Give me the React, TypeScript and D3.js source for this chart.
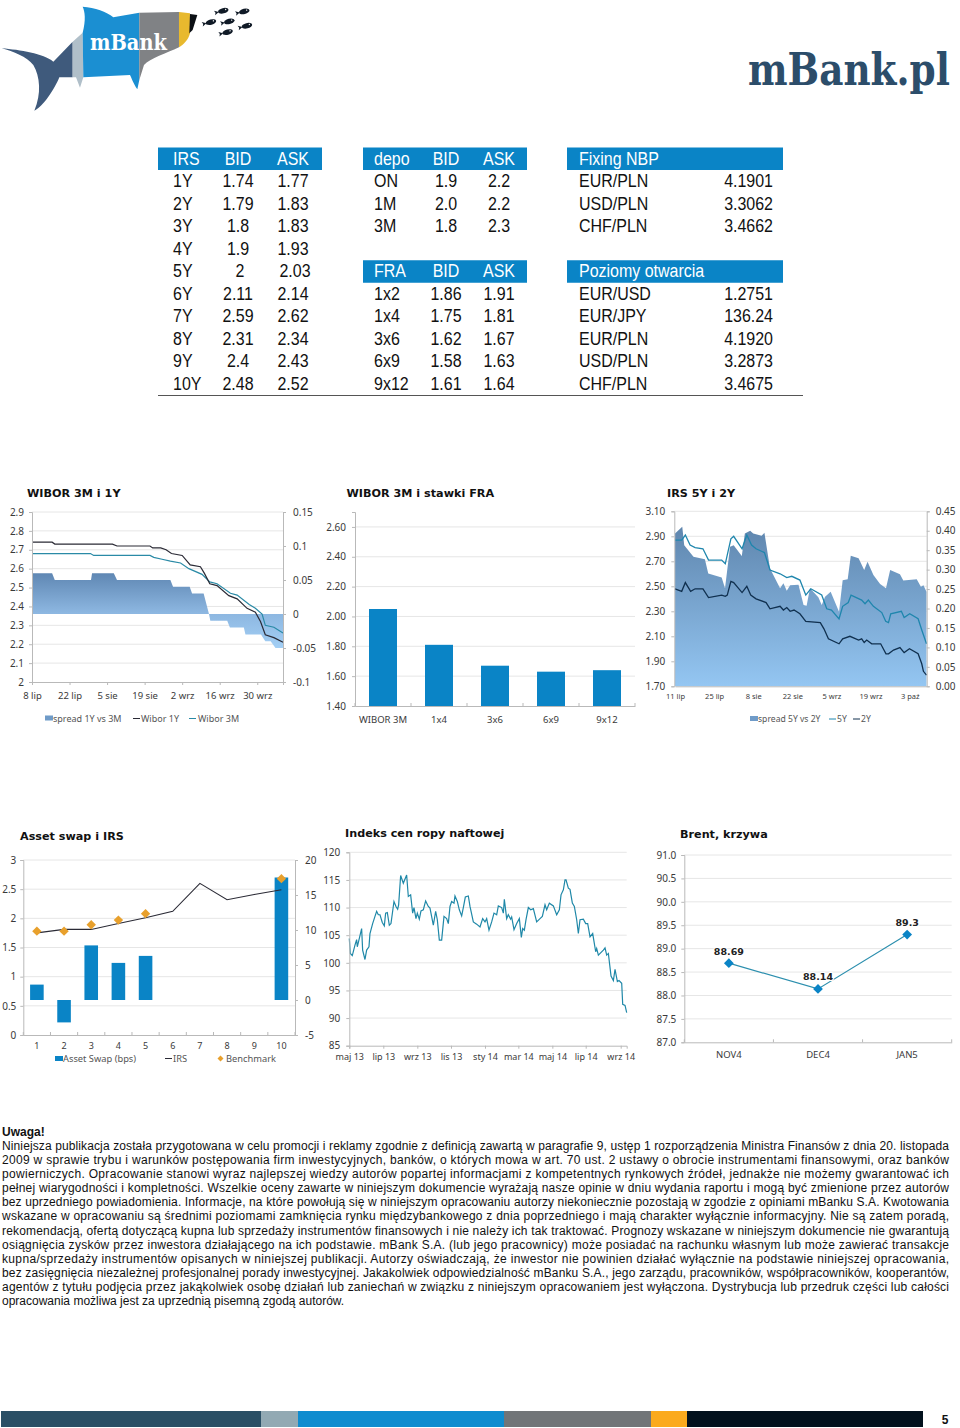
import { useEffect, useRef } from 'react';
import * as d3 from 'd3';

const BLUE = '#0a84c6';
const GRID = '#e6e6e6';
const AXIS = '#b9b9b9';
const TEXT = '#3a3a3a';
const SANS = '"Noto Sans", sans-serif';
const HEAD = '"DejaVu Sans", sans-serif';
const ARIAL = '"Liberation Sans", Arial, sans-serif';
const SERIF = '"DejaVu Serif", serif';

// ---- tabele ----
const irsRows = [
    ['1Y', '1.74', '1.77'], ['2Y', '1.79', '1.83'], ['3Y', '1.8', '1.83'], ['4Y', '1.9', '1.93'], ['5Y', '2', '2.03'],
    ['6Y', '2.11', '2.14'], ['7Y', '2.59', '2.62'], ['8Y', '2.31', '2.34'], ['9Y', '2.4', '2.43'], ['10Y', '2.48', '2.52'],
];
const depoRows = [['ON', '1.9', '2.2'], ['1M', '2.0', '2.2'], ['3M', '1.8', '2.3']];
const fraRows = [['1x2', '1.86', '1.91'], ['1x4', '1.75', '1.81'], ['3x6', '1.62', '1.67'], ['6x9', '1.58', '1.63'], ['9x12', '1.61', '1.64']];
const fixingRows = [['EUR/PLN', '4.1901'], ['USD/PLN', '3.3062'], ['CHF/PLN', '3.4662']];
const openRows = [['EUR/USD', '1.2751'], ['EUR/JPY', '136.24'], ['EUR/PLN', '4.1920'], ['USD/PLN', '3.2873'], ['CHF/PLN', '3.4675']];

// ---- WIBOR 3M i 1Y: [dzień, wartość] ----
const wibor1Y = [[0, 2.74], [7.5, 2.74], [8.5, 2.73], [30, 2.73], [31.7, 2.72], [44, 2.72], [45, 2.71], [48, 2.71], [50, 2.7], [52, 2.68], [56, 2.67], [59, 2.62], [62.8, 2.61], [64.3, 2.575], [66.3, 2.52], [69, 2.51], [73.4, 2.457], [76.5, 2.44], [80.2, 2.39], [83.3, 2.37], [85.2, 2.32], [87, 2.25], [90.2, 2.235], [93.6, 2.21]];
const wibor3M = [[0, 2.68], [21.8, 2.68], [23, 2.67], [44, 2.67], [45.4, 2.66], [48.5, 2.65], [51.6, 2.64], [55.4, 2.63], [58.5, 2.6], [63.4, 2.57], [66.3, 2.53], [69, 2.52], [74, 2.47], [76.5, 2.46], [81, 2.41], [83.3, 2.39], [85.8, 2.36], [87, 2.3], [90.2, 2.29], [93.6, 2.26]];
const spread1Y = [[0, 0.06], [7.5, 0.06], [8.5, 0.05], [22, 0.05], [22.4, 0.06], [30.5, 0.06], [31.7, 0.05], [51.6, 0.05], [52.6, 0.04], [58.8, 0.04], [59.7, 0.03], [64, 0.03], [66, 0], [66.5, -0.01], [72.8, -0.01], [73.8, -0.02], [79, -0.02], [79.6, -0.03], [85.4, -0.03], [87, -0.04], [89, -0.04], [90.8, -0.05], [93.6, -0.05]];
const chart1Dates = [0, 14, 28, 42, 56, 70, 84];
const chart1DateLabels = ['8 lip', '22 lip', '5 sie', '19 sie', '2 wrz', '16 wrz', '30 wrz'];
const chart1Left = [2, 2.1, 2.2, 2.3, 2.4, 2.5, 2.6, 2.7, 2.8, 2.9];
const chart1Right = [-0.1, -0.05, 0, 0.05, 0.1, 0.15];

// ---- WIBOR 3M i stawki FRA ----
const fraLabels = ['WIBOR 3M', '1x4', '3x6', '6x9', '9x12'];
const fraValues = [2.05, 1.81, 1.67, 1.63, 1.64];
const fraTicks = [1.4, 1.6, 1.8, 2.0, 2.2, 2.4, 2.6];

// ---- IRS 5Y i 2Y ----
const irs5Y = [[0, 2.87], [2.4, 2.87], [3.7, 2.91], [5.4, 2.83], [7.2, 2.81], [10, 2.8], [12, 2.71], [16.7, 2.71], [18, 2.68], [20, 2.88], [21, 2.9], [24, 2.8], [25.7, 2.91], [27.4, 2.83], [29, 2.8], [32, 2.77], [34, 2.63], [37.6, 2.6], [40, 2.57], [41.8, 2.58], [44.7, 2.55], [46.8, 2.43], [48.6, 2.48], [52.5, 2.43], [54.3, 2.32], [56, 2.31], [58.7, 2.24], [60, 2.34], [62, 2.37], [63, 2.43], [66.8, 2.39], [68, 2.36], [69.2, 2.39], [71, 2.34], [74, 2.29], [75.4, 2.22], [76.4, 2.21], [77.2, 2.28], [81, 2.3], [82, 2.25], [84, 2.28], [87, 2.24], [88.3, 2.15], [90, 2.04]];
const irs2Y = [[0, 2.48], [2.4, 2.46], [3.7, 2.53], [5.6, 2.46], [7.2, 2.48], [10, 2.48], [12, 2.41], [16.7, 2.43], [18, 2.42], [18.7, 2.43], [20, 2.54], [21, 2.53], [24, 2.45], [25.7, 2.5], [27.1, 2.43], [29, 2.4], [32.6, 2.37], [34, 2.32], [37.6, 2.34], [38.8, 2.31], [40, 2.33], [41.2, 2.3], [42.6, 2.31], [44.7, 2.28], [46.8, 2.22], [52, 2.21], [53.3, 2.16], [54.9, 2.08], [58.7, 2.04], [60, 2.08], [62.6, 2.1], [65.7, 2.07], [66.8, 2.08], [67.7, 2.05], [68.6, 2.07], [70.4, 2.04], [73.6, 2.04], [75.5, 1.96], [76.4, 1.96], [78.2, 1.99], [80.5, 2.01], [82, 1.97], [83.9, 2], [87, 1.96], [88.3, 1.88], [88.9, 1.82], [90, 1.79]];
const spread5Y = [[0, 0.393], [2.6, 0.41], [3.3, 0.363], [6.6, 0.333], [10.7, 0.327], [11.9, 0.29], [16.7, 0.28], [17.9, 0.252], [19.7, 0.359], [21, 0.363], [23.9, 0.335], [25, 0.393], [26.9, 0.4], [28, 0.393], [31, 0.387], [32, 0.395], [34, 0.303], [37.6, 0.252], [38.8, 0.265], [40, 0.246], [41.2, 0.26], [44.2, 0.261], [46, 0.209], [47.1, 0.207], [48.3, 0.252], [51.3, 0.229], [52.5, 0.209], [53.7, 0.23], [55.7, 0.243], [58.7, 0.192], [60, 0.273], [61.8, 0.275], [62.9, 0.336], [65.7, 0.329], [67.7, 0.299], [68.9, 0.32], [71, 0.286], [73.4, 0.263], [75.5, 0.252], [77, 0.299], [80.5, 0.288], [81.7, 0.272], [86.5, 0.275], [88, 0.256], [88.9, 0.26], [90, 0.243]];
const chart3Dates = [0, 14, 28, 42, 56, 70, 84];
const chart3DateLabels = ['11 lip', '25 lip', '8 sie', '22 sie', '5 wrz', '19 wrz', '3 paź'];
const chart3Left = [1.7, 1.9, 2.1, 2.3, 2.5, 2.7, 2.9, 3.1];
const chart3Right = [0, 0.05, 0.1, 0.15, 0.2, 0.25, 0.3, 0.35, 0.4, 0.45];

// ---- Asset swap i IRS ----
const tenors = ['1', '2', '3', '4', '5', '6', '7', '8', '9', '10'];
const assetSwap = [2.2, -3.2, 7.8, 5.3, 6.3, null, null, null, null, 17.5];
const irsMid = [1.75, 1.81, 1.81, 1.91, 2.01, 2.12, 2.6, 2.32, 2.41, 2.49];
const benchmark = [1.78, 1.78, 1.89, 1.97, 2.08, null, null, null, null, 2.68];
const chart4Left = [0, 0.5, 1, 1.5, 2, 2.5, 3];
const chart4Right = [-5, 0, 5, 10, 15, 20];

// ---- Indeks cen ropy: [sesja, wartość] ----
const oilIndex = [[0, 104.4], [3, 101.7], [9, 101.3], [17, 103.2], [22, 104.2], [24, 102.9], [37, 106.2], [40, 102.3], [47, 100.6], [52, 102.3], [59, 102.9], [62, 105.3], [70, 107.1], [77, 108.4], [82, 109.3], [87, 108.7], [92, 108.7], [99, 107.3], [105, 106.7], [109, 109], [114, 109.1], [120, 106.8], [125, 107.1], [134, 111.1], [140, 110.2], [145, 109.7], [148, 110.5], [154, 115.8], [162, 114.4], [172, 115.9], [177, 112], [184, 112.3], [190, 109], [194, 110], [200, 108], [204, 109], [210, 107.9], [215, 109.4], [222, 109.6], [229, 111.2], [237, 110.2], [242, 109.9], [252, 106.8], [259, 109.3], [264, 107.8], [270, 104.1], [277, 104.1], [284, 108.4], [292, 108], [297, 107.1], [302, 110.2], [307, 111.1], [314, 110.8], [317, 112.1], [324, 111.1], [330, 109.6], [337, 108.5], [342, 110], [348, 111.9], [357, 112.1], [362, 110.2], [372, 107.4], [382, 107], [392, 106.5], [400, 108], [407, 107.4], [412, 108], [419, 105.9], [427, 107.4], [434, 109], [442, 108.7], [447, 110.3], [457, 110], [462, 109], [465, 111.5], [472, 108], [477, 108.7], [484, 107.9], [487, 108.3], [494, 106], [502, 107.1], [510, 108], [516, 104.6], [520, 106.2], [525, 105.9], [530, 107.8], [537, 110], [544, 109.6], [552, 109.8], [562, 107.4], [572, 108], [579, 108.4], [587, 110.5], [592, 109.6], [600, 110.8], [612, 110.3], [622, 108.7], [630, 109.6], [635, 112.3], [642, 113.2], [647, 115], [650, 115], [657, 113.5], [662, 113.3], [669, 110.8], [675, 110.2], [682, 107.8], [687, 105.3], [692, 107.8], [702, 107.9], [709, 107.1], [715, 107.1], [722, 104.7], [730, 105.3], [739, 102], [742, 102.6], [747, 101.4], [762, 102.3], [767, 102.7], [772, 101.4], [777, 101.7], [785, 97.6], [792, 96.8], [797, 98.8], [804, 96.6], [809, 96.8], [817, 96.3], [820, 92.5], [827, 92.3], [832, 91]];
const oilDates = [0, 102, 204, 305, 407, 507, 609, 709, 814];
const oilDateLabels = ['maj 13', 'lip 13', 'wrz 13', 'lis 13', 'sty 14', 'mar 14', 'maj 14', 'lip 14', 'wrz 14'];
const oilTicks = [85, 90, 95, 100, 105, 110, 115, 120];

// ---- Brent ----
const brentMonths = ['NOV4', 'DEC4', 'JAN5'];
const brentValues = [88.69, 88.14, 89.3];
const brentLabels = ['88.69', '88.14', '89.3'];
const brentTicks = [87, 87.5, 88, 88.5, 89, 89.5, 90, 90.5, 91];

// ---- stopka ----
const footerEdges = [1, 261, 298, 504, 651, 687, 923];
const footerColors = ['#2a4f65', '#92a9b3', '#0f8ccf', '#717578', '#fbaa1d', '#02111d'];

const noteJustified = [
    'Niniejsza publikacja została przygotowana w celu promocji i reklamy zgodnie z definicją zawartą w paragrafie 9, ustęp 1 rozporządzenia Ministra Finansów z dnia 20. listopada',
    '2009 w sprawie trybu i warunków postępowania firm inwestycyjnych, banków, o których mowa w art. 70 ust. 2 ustawy o obrocie instrumentami finansowymi, oraz banków',
    'powierniczych. Opracowanie stanowi wyraz najlepszej wiedzy autorów popartej informacjami z kompetentnych rynkowych źródeł, jednakże nie możemy gwarantować ich',
    'pełnej wiarygodności i kompletności. Wszelkie oceny zawarte w niniejszym dokumencie wyrażają nasze opinie w dniu wydania raportu i mogą być zmienione przez autorów',
    'bez uprzedniego powiadomienia. Informacje, na które powołują się w niniejszym opracowaniu autorzy niekoniecznie pozostają w zgodzie z opiniami mBanku S.A. Kwotowania',
    'wskazane w opracowaniu są średnimi poziomami zamknięcia rynku międzybankowego z dnia poprzedniego i mają charakter wyłącznie informacyjny. Nie są zatem poradą,',
    'rekomendacją, ofertą dotyczącą kupna lub sprzedaży instrumentów finansowych i nie należy ich tak traktować. Prognozy wskazane w niniejszym dokumencie nie gwarantują',
    'osiągnięcia zysków przez inwestora działającego na ich podstawie. mBank S.A. (lub jego pracownicy) może posiadać na rachunku własnym lub może zawierać transakcje',
    'kupna/sprzedaży instrumentów opisanych w niniejszej publikacji. Autorzy oświadczają, że inwestor nie powinien działać wyłącznie na podstawie niniejszej opracowania,',
    'bez zasięgnięcia niezależnej profesjonalnej porady inwestycyjnej. Jakakolwiek odpowiedzialność mBanku S.A., jego zarządu, pracowników, współpracowników, kooperantów,',
    'agentów z tytułu podjęcia przez jakąkolwiek osobę działań lub zaniechań w związku z niniejszym opracowaniem jest wyłączona. Dystrybucja lub przedruk części lub całości',
];
const noteLast = 'opracowania możliwa jest za uprzednią pisemną zgodą autorów.';

// rysuje os d3 w grupie
const Axis = ({ axis, size = 10 }: { axis: any; size?: number }) => {
    const ref = useRef<SVGGElement>(null);
    useEffect(() => {
        const g = d3.select(ref.current);
        g.call(axis);
        g.select('.domain').attr('stroke', AXIS);
        g.selectAll('.tick line').attr('stroke', AXIS);
        g.selectAll('.tick text').attr('fill', TEXT).attr('font-size', size).attr('font-family', SANS);
    }, []);
    return <g ref={ref} />;
};

const At = ({ x = 0, y = 0, children }: any) => <g transform={`translate(${x},${y})`}>{children}</g>;

const Title = ({ x, y, children }: any) => (
    <text x={x} y={y} fontFamily={HEAD} fontWeight="bold" fontSize={11.2} fill="#111">{children}</text>
);

const Label = ({ x, y, size = 9, anchor = 'start', children }: any) => (
    <text x={x} y={y} fontFamily={SANS} fontSize={size} fill="#555" textAnchor={anchor}>{children}</text>
);

const Grid = ({ ticks, scale, x1, x2 }: any) => (
    <g>{ticks.map((t: number) => <line key={t} x1={x1} x2={x2} y1={scale(t)} y2={scale(t)} stroke={GRID} />)}</g>
);

// kreski miedzy kategoriami
const BandTicks = ({ scale, y }: any) => {
    const [a, b] = scale.range();
    const n = scale.domain().length;
    const step = (b - a) / n;
    return <g>{d3.range(n + 1).map(i => <line key={i} x1={a + i * step} x2={a + i * step} y1={y} y2={y + 3} stroke={AXIS} />)}</g>;
};

const Diamond = ({ x, y, area, fill }: any) => (
    <path d={d3.symbol(d3.symbolSquare, area)() || ''} transform={`translate(${x},${y}) rotate(45)`} fill={fill} />
);

const Chart1 = () => {
    const x = d3.scaleLinear().domain([0, 93.6]).range([32, 283]);
    const left = d3.scaleLinear().domain([2, 2.9]).range([682, 512]);
    const right = d3.scaleLinear().domain([-0.1, 0.15]).range([682, 512]);
    const line = d3.line<number[]>().x(d => x(d[0])).y(d => left(d[1]));
    const area = d3.area<number[]>().x(d => x(d[0])).y0(right(0)).y1(d => right(d[1]));
    return (
        <g>
            <defs>
                <linearGradient id="spread1" gradientUnits="userSpaceOnUse" x1="0" x2="0" y1={right(0.06)} y2={right(-0.05)}>
                    <stop offset="0" stopColor="#5f87b3" />
                    <stop offset="0.52" stopColor="#8cb6e0" />
                    <stop offset="1" stopColor="#a3cff5" />
                </linearGradient>
            </defs>
            <Title x={27} y={497}>WIBOR 3M i 1Y</Title>
            <Grid ticks={chart1Left.slice(1)} scale={left} x1={32} x2={283} />
            <path d={area(spread1Y) || ''} fill="url(#spread1)" />
            <path d={line(wibor3M) || ''} fill="none" stroke="#2a8aa6" strokeWidth={1.2} />
            <path d={line(wibor1Y) || ''} fill="none" stroke="#2a2a35" strokeWidth={1.2} />
            <At x={32}><Axis axis={d3.axisLeft(left).tickValues(chart1Left).tickSize(3).tickPadding(5).tickFormat(d => String(d))} /></At>
            <At x={283}><Axis axis={d3.axisRight(right).tickValues(chart1Right).tickSize(3).tickPadding(7).tickFormat(d => String(d))} /></At>
            <At y={682}><Axis axis={d3.axisBottom(x).tickValues(chart1Dates).tickSize(3).tickPadding(7).tickFormat((_, i) => chart1DateLabels[i])} size={9.5} /></At>
            <rect x={45} y={715.5} width={8} height={5} fill="#6f9bc8" />
            <Label x={53} y={722}>spread 1Y vs 3M</Label>
            <line x1={133} x2={140} y1={718.5} y2={718.5} stroke="#2a2a35" />
            <Label x={141} y={722}>Wibor 1Y</Label>
            <line x1={189} x2={196} y1={718.5} y2={718.5} stroke="#2a8aa6" />
            <Label x={198} y={722}>Wibor 3M</Label>
        </g>
    );
};

const Chart2 = () => {
    const x = d3.scaleBand().domain(fraLabels).range([355, 635]).paddingInner(0.5).paddingOuter(0.25);
    const y = d3.scaleLinear().domain([1.4, 2.7]).range([706, 512]);
    return (
        <g>
            <Title x={346.5} y={497}>WIBOR 3M i stawki FRA</Title>
            <Grid ticks={fraTicks.slice(1)} scale={y} x1={355} x2={635} />
            {fraValues.map((v, i) => (
                <rect key={fraLabels[i]} x={x(fraLabels[i])} y={y(v)} width={x.bandwidth()} height={y(1.4) - y(v)} fill={BLUE} />
            ))}
            <At x={355}><Axis axis={d3.axisLeft(y).tickValues(fraTicks).tickSize(3).tickPadding(6).tickFormat(d => Number(d).toFixed(2))} /></At>
            <At y={706}>
                <Axis axis={d3.axisBottom(x).tickSize(0).tickPadding(10)} size={9.5} />
            </At>
            <BandTicks scale={x} y={703} />
        </g>
    );
};

const Chart3 = () => {
    const x = d3.scaleLinear().domain([0, 90]).range([675, 926.5]);
    const left = d3.scaleLinear().domain([1.7, 3.1]).range([686.3, 511.3]);
    const right = d3.scaleLinear().domain([0, 0.45]).range([686.3, 511.3]);
    const line = d3.line<number[]>().x(d => x(d[0])).y(d => left(d[1]));
    const area = d3.area<number[]>().x(d => x(d[0])).y0(right(0)).y1(d => right(d[1]));
    return (
        <g>
            <defs>
                <linearGradient id="spread5" gradientUnits="userSpaceOnUse" x1="0" x2="0" y1={right(0.41)} y2={right(0)}>
                    <stop offset="0" stopColor="#5f86ae" />
                    <stop offset="1" stopColor="#94c6f2" />
                </linearGradient>
            </defs>
            <Title x={667} y={497}>IRS 5Y i 2Y</Title>
            <Grid ticks={chart3Left.slice(1)} scale={left} x1={674.3} x2={926.7} />
            <path d={area(spread5Y) || ''} fill="url(#spread5)" />
            <path d={line(irs5Y) || ''} fill="none" stroke="#1f86ad" strokeWidth={1.3} />
            <path d={line(irs2Y) || ''} fill="none" stroke="#10304f" strokeWidth={1.3} />
            <At x={674.3}><Axis axis={d3.axisLeft(left).tickValues(chart3Left).tickSize(3).tickPadding(6).tickFormat(d => Number(d).toFixed(2))} /></At>
            <At x={926.7}><Axis axis={d3.axisRight(right).tickValues(chart3Right).tickSize(3).tickPadding(6).tickFormat(d => Number(d).toFixed(2))} /></At>
            <At y={686.3}><Axis axis={d3.axisBottom(x).tickValues(chart3Dates).tickSize(0).tickPadding(7).tickFormat((_, i) => chart3DateLabels[i])} size={7.5} /></At>
            <rect x={750} y={716} width={8} height={5} fill="#6f9bc8" />
            <Label x={758} y={722} size={8.6}>spread 5Y vs 2Y</Label>
            <line x1={829} x2={836} y1={719} y2={719} stroke="#1f86ad" />
            <Label x={837} y={722} size={8.6}>5Y</Label>
            <line x1={853} x2={860} y1={719} y2={719} stroke="#10304f" />
            <Label x={861} y={722} size={8.6}>2Y</Label>
        </g>
    );
};

const Chart4 = () => {
    const x = d3.scaleBand().domain(tenors).range([23.3, 295]).paddingInner(0.5).paddingOuter(0.25);
    const left = d3.scaleLinear().domain([0, 3]).range([1035, 860]);
    const right = d3.scaleLinear().domain([-5, 20]).range([1035, 860]);
    const cx = (t: string) => (x(t) || 0) + x.bandwidth() / 2;
    const line = d3.line<number>().x((_, i) => cx(tenors[i])).y(d => left(d));
    return (
        <g>
            <Title x={20} y={840}>Asset swap i IRS</Title>
            <Grid ticks={chart4Left.slice(1)} scale={left} x1={23.3} x2={295} />
            {assetSwap.map((v, i) => v === null ? null : (
                <rect key={i} x={x(tenors[i])} width={x.bandwidth()} y={Math.min(right(v), right(0))} height={Math.abs(right(v) - right(0))} fill={BLUE} />
            ))}
            <path d={line(irsMid) || ''} fill="none" stroke="#2a2a35" strokeWidth={1.1} />
            {benchmark.map((v, i) => v === null ? null : (
                <Diamond key={i} x={cx(tenors[i])} y={left(v)} area={44} fill="#e8a02c" />
            ))}
            <At x={23.3}><Axis axis={d3.axisLeft(left).tickValues(chart4Left).tickSize(3).tickPadding(4).tickFormat(d => String(d))} /></At>
            <At x={295}><Axis axis={d3.axisRight(right).tickValues(chart4Right).tickSize(3).tickPadding(7).tickFormat(d => String(d))} /></At>
            <At y={1035}><Axis axis={d3.axisBottom(x).tickSize(0).tickPadding(8)} size={9} /></At>
            <BandTicks scale={x} y={1032} />
            <rect x={55} y={1056} width={8} height={5} fill={BLUE} />
            <Label x={63} y={1062} size={9.3}>Asset Swap (bps)</Label>
            <line x1={165} x2={172} y1={1058.5} y2={1058.5} stroke="#2a2a35" />
            <Label x={173} y={1062} size={9.3}>IRS</Label>
            <Diamond x={220.5} y={1058.5} area={18} fill="#e8a02c" />
            <Label x={226} y={1062} size={9.3}>Benchmark</Label>
        </g>
    );
};

const Chart5 = () => {
    const x = d3.scaleLinear().domain([0, 832]).range([349.3, 626.7]);
    const y = d3.scaleLinear().domain([85, 120]).range([1045.7, 852.3]);
    const line = d3.line<number[]>().x(d => x(d[0])).y(d => y(d[1]));
    return (
        <g>
            <Title x={345} y={837}>Indeks cen ropy naftowej</Title>
            <Grid ticks={oilTicks.slice(1)} scale={y} x1={349.3} x2={626.7} />
            <path d={line(oilIndex) || ''} fill="none" stroke="#1f88a8" strokeWidth={1.2} />
            <At x={349.3}><Axis axis={d3.axisLeft(y).tickValues(oilTicks).tickSize(3).tickPadding(6).tickFormat(d => String(d))} /></At>
            <At y={1045.7}><Axis axis={d3.axisBottom(x).tickValues(oilDates).tickSize(3).tickPadding(5).tickFormat((_, i) => oilDateLabels[i])} size={9} /></At>
        </g>
    );
};

const Chart6 = () => {
    const x = d3.scaleBand().domain(brentMonths).range([684.3, 951.7]);
    const y = d3.scaleLinear().domain([87, 91]).range([1042.3, 855]);
    const cx = (m: string) => (x(m) || 0) + x.bandwidth() / 2;
    const line = d3.line<number>().x((_, i) => cx(brentMonths[i])).y(d => y(d));
    return (
        <g>
            <Title x={680} y={838}>Brent, krzywa</Title>
            <Grid ticks={brentTicks.slice(1)} scale={y} x1={684.3} x2={951.7} />
            <path d={line(brentValues) || ''} fill="none" stroke="#2c8fae" strokeWidth={1.2} />
            {brentValues.map((v, i) => (
                <g key={brentMonths[i]}>
                    <Diamond x={cx(brentMonths[i])} y={y(v)} area={48} fill={BLUE} />
                    <text x={cx(brentMonths[i])} y={y(v) - 8.5} textAnchor="middle" fontFamily={HEAD} fontWeight="bold" fontSize={9.5} fill="#222" stroke="#fff" strokeWidth={2} paintOrder="stroke">{brentLabels[i]}</text>
                </g>
            ))}
            <At x={684.3}><Axis axis={d3.axisLeft(y).tickValues(brentTicks).tickSize(3).tickPadding(5).tickFormat(d => Number(d).toFixed(1))} /></At>
            <At y={1042.3}><Axis axis={d3.axisBottom(x).tickSize(0).tickPadding(9)} size={9.5} /></At>
            <BandTicks scale={x} y={1039.3} />
        </g>
    );
};

const ROW_Y = (i: number) => 147.5 + 22.55 * i;

const Cell = ({ x, row, anchor = 'start', fill = '#111', children }: any) => (
    <text transform={`translate(${x},${ROW_Y(row) + 17}) scale(1,1.1)`} textAnchor={anchor} fontFamily={ARIAL} fontSize={16} fill={fill}>{children}</text>
);

const RateTable = ({ x, left, bid, ask, row, heads, rows }: any) => (
    <g>
        <rect x={x} y={ROW_Y(row)} width={164} height={22.5} fill={BLUE} />
        <Cell x={left} row={row} fill="#fff">{heads[0]}</Cell>
        <Cell x={bid} row={row} anchor="middle" fill="#fff">{heads[1]}</Cell>
        <Cell x={ask} row={row} anchor="middle" fill="#fff">{heads[2]}</Cell>
        {rows.map((r: string[], i: number) => {
            const nudge = r[0] === '5Y' ? 2 : 0;
            return (
                <g key={r[0]}>
                    <Cell x={left} row={row + 1 + i}>{r[0]}</Cell>
                    <Cell x={bid + nudge} row={row + 1 + i} anchor="middle">{r[1]}</Cell>
                    <Cell x={ask + nudge} row={row + 1 + i} anchor="middle">{r[2]}</Cell>
                </g>
            );
        })}
    </g>
);

const FxTable = ({ row, head, rows }: any) => (
    <g>
        <rect x={567} y={ROW_Y(row)} width={216} height={22.5} fill={BLUE} />
        <Cell x={579} row={row} fill="#fff">{head}</Cell>
        {rows.map((r: string[], i: number) => (
            <g key={r[0]}>
                <Cell x={579} row={row + 1 + i}>{r[0]}</Cell>
                <Cell x={773} row={row + 1 + i} anchor="end">{r[1]}</Cell>
            </g>
        ))}
    </g>
);

const fishSpots = [[667, 33], [730, 35], [630, 67], [685, 65], [738, 78], [680, 97]];

const Logos = () => (
    <g>
        <g transform="scale(0.3333)">
            <path d="M5,145 C60,150 130,160 160,185 L218,125 L218,232 L178,232 C165,265 130,320 103,332 C125,280 120,230 100,195 C80,170 40,155 5,145 Z" fill="#3f5a7c" />
            <path d="M218,125 L248,98 L250,232 L240,263 L228,232 L218,232 Z" fill="#b0bfc9" />
            <path d="M248,98 C258,60 255,35 248,20 C285,22 320,35 340,52 L418,38 L418,240 L412,268 C400,250 395,235 390,225 L250,232 Z" fill="#1b8fd2" />
            <path d="M418,38 L537,36 L537,142 C500,160 450,175 432,195 L418,240 Z" fill="#808285" />
            <path d="M537,36 L570,40 L570,100 C565,120 550,135 537,142 Z" fill="#e8b92e" />
            <path d="M570,42 L592,45 L578,90 L568,100 Z" fill="#0b0f14" />
            {fishSpots.map(([fx, fy]) => (
                <g key={fx} transform={`translate(${fx},${fy}) rotate(-14)`}>
                    <ellipse cx={3} cy={0} rx={16} ry={8} fill="#101a26" />
                    <path d="M-11,0 L-24,-7 L-21,0 L-24,7 Z" fill="#101a26" />
                    <circle cx={11} cy={-2} r={2} fill="#fff" />
                </g>
            ))}
            <text transform="translate(270,150) scale(0.88,1)" fontFamily={SERIF} fontWeight="bold" fontSize={66} fill="#fff">mBank</text>
        </g>
        <text transform="translate(748,85) scale(0.85,1)" fontFamily={SERIF} fontWeight="bold" fontSize={44} fill="#2c4d6a">mBank.pl</text>
    </g>
);

const Note = () => (
    <g fontFamily={ARIAL} fontSize={12} fill="#111">
        <text x={2} y={1136} fontWeight="bold">Uwaga!</text>
        {noteJustified.map((t, i) => (
            <text key={i} x={2} y={1150 + i * 14.09} textLength={947} lengthAdjust="spacing">{t}</text>
        ))}
        <text x={2} y={1150 + noteJustified.length * 14.09}>{noteLast}</text>
    </g>
);

const Footer = () => (
    <g>
        {footerColors.map((c, i) => (
            <rect key={c} x={footerEdges[i]} y={1411} width={footerEdges[i + 1] - footerEdges[i]} height={16} fill={c} />
        ))}
        <text x={945} y={1424} textAnchor="middle" fontFamily={ARIAL} fontWeight="bold" fontSize={12} fill="#111">5</text>
    </g>
);

export default function App() {
    return (
        <svg width={960} height={1428} style={{ position: 'absolute', left: 0, top: 0, display: 'block', background: '#fff' }}>
            <Logos />
            <RateTable x={158} left={173} bid={238} ask={293} row={0} heads={['IRS', 'BID', 'ASK']} rows={irsRows} />
            <RateTable x={363} left={374} bid={446} ask={499} row={0} heads={['depo', 'BID', 'ASK']} rows={depoRows} />
            <RateTable x={363} left={374} bid={446} ask={499} row={5} heads={['FRA', 'BID', 'ASK']} rows={fraRows} />
            <FxTable row={0} head="Fixing NBP" rows={fixingRows} />
            <FxTable row={5} head="Poziomy otwarcia" rows={openRows} />
            <line x1={158} x2={803} y1={395.5} y2={395.5} stroke="#555" />
            <Chart1 />
            <Chart2 />
            <Chart3 />
            <Chart4 />
            <Chart5 />
            <Chart6 />
            <Note />
            <Footer />
        </svg>
    );
}
